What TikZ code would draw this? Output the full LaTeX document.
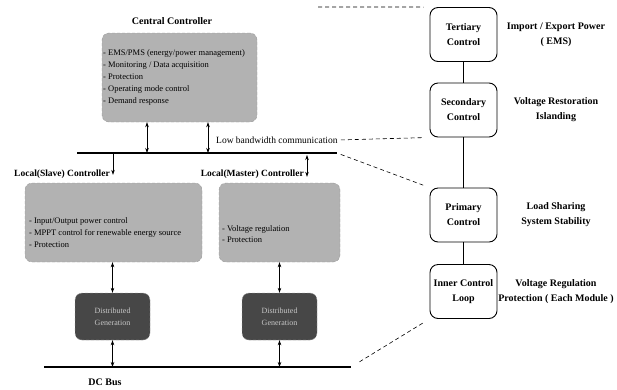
\documentclass[tikz,border=0pt]{standalone}
\usepackage{fontspec}
\setmainfont{Liberation Serif}
\usetikzlibrary{arrows.meta}
\newcommand{\hd}[1]{\textbf{#1}}

\begin{document}
\begin{tikzpicture}[x=1pt,y=-1pt,
  >={Stealth[length=5pt,width=3.5pt]},
  panel/.style={draw=black!40,dash pattern=on 3pt off 2pt,fill=black!30,rounded corners=7pt},
  dgbox/.style={draw=black!35,dash pattern=on 3pt off 2pt,fill=black!72,rounded corners=7pt,
    minimum width=75pt,minimum height=47pt,text=black!22,align=center,font=\fontsize{8}{12}\selectfont},
  items/.style={align=left,inner sep=0pt,font=\fontsize{8.5}{11.8}\selectfont},
  ctl/.style={draw,line width=0.9pt,rounded corners=8pt,fill=white,minimum width=67pt,
    minimum height=54pt,align=center,font=\fontsize{10}{15}\selectfont},
  lbl/.style={align=center,font=\fontsize{10}{15}\selectfont},
  hdr/.style={inner sep=0pt,font=\fontsize{10}{12}\selectfont},
  bus/.style={line width=2.4pt},
  link/.style={dash pattern=on 4pt off 3pt,line width=0.6pt},
  tie/.style={line width=1.8pt},
  ]
\useasboundingbox (0,0) rectangle (617,389);

\node (CCh) [hdr] at (172,21) {\hd{Central Controller}};
\node (CC) [panel,minimum width=155pt,minimum height=89pt] at (179.5,77.5) {};
\node (CCt) [items,anchor=west] at (103,77.5) {- EMS/PMS (energy/power management)\\- Monitoring / Data acquisition\\- Protection\\- Operating mode control\\- Demand response};
\node (LB) [hdr,anchor=west,font=\fontsize{9.5}{12}\selectfont] at (216,140) {Low bandwidth communication};

\coordinate (U1) at (77,153);
\coordinate (U2) at (337,153);
\coordinate (a1) at (147,153);
\coordinate (a2) at (208,153);
\coordinate (a3) at (113,153);
\coordinate (a4) at (307,153);

\node (SLh) [hdr,anchor=east,font=\fontsize{9.5}{12}\selectfont] at (110,174) {\hd{Local(Slave) Controller}};
\node (MAh) [hdr,anchor=east,font=\fontsize{9.5}{12}\selectfont] at (304,174) {\hd{Local(Master) Controller}};
\node (SL) [panel,minimum width=177pt,minimum height=79pt] at (113.5,222.5) {};
\node (SLt) [items,anchor=west] at (29,232.5) {- Input/Output power control\\- MPPT control for renewable energy source\\- Protection};
\node (MA) [panel,minimum width=121pt,minimum height=79pt] at (279.5,222.5) {};
\node (MAt) [items,anchor=west] at (222,234) {- Voltage regulation\\- Protection};

\node (DG1) [dgbox] at (112.5,316.5) {Distributed\\Generation};
\node (DG2) [dgbox] at (279.5,316.5) {Distributed\\Generation};

\coordinate (D1) at (44,367);
\coordinate (D2) at (351,367);
\node (DC) [hdr] at (105,382) {\hd{DC Bus}};

\node (T) [ctl] at (463.5,34.5) {\hd{Tertiary}\\\hd{Control}};
\node (S) [ctl] at (463.5,110) {\hd{Secondary}\\\hd{Control}};
\node (P) [ctl] at (463.5,215) {\hd{Primary}\\\hd{Control}};
\node (I) [ctl] at (463.5,291.5) {\hd{Inner Control}\\\hd{Loop}};

\coordinate (lx) at (556,0);
\node (TX) [lbl] at (T -| lx) {\hd{Import / Export Power}\\\hd{( EMS)}};
\node (SX) [lbl] at (S -| lx) {\hd{Voltage Restoration}\\\hd{Islanding}};
\node (PX) [lbl] at (P -| lx) {\hd{Load Sharing}\\\hd{System Stability}};
\node (IX) [lbl] at (I -| lx) {\hd{Voltage Regulation}\\\hd{Protection ( Each Module )}};

\draw[bus] (U1) -- (U2);
\draw[bus] (D1) -- (D2);
\draw[semithick,<->] (CC.south -| a1) -- (a1);
\draw[semithick,<->] (CC.south -| a2) -- (a2);
\draw[semithick,->,shorten >=8pt] (a3) -- (SL.north -| a3);
\draw[semithick,<->,shorten <=2pt,shorten >=6pt] (a4) -- (MA.north -| a4);
\draw[semithick,<->] (SL.south -| DG1.north) -- (DG1.north);
\draw[semithick,<->] (MA.south -| DG2.north) -- (DG2.north);
\draw[semithick,<->] (DG1.south) -- (DG1.south |- D1);
\draw[semithick,<->] (DG2.south) -- (DG2.south |- D1);

\draw[tie] (T) -- (S);
\draw[tie] (S) -- (P);
\draw[tie] (P) -- (I);

\coordinate (tt) at (318,7);
\draw[link,shorten >=6pt] (tt) -- (T.north west);
\draw[link,shorten <=3pt,shorten >=6pt] (LB.east) -- (S.south west);
\draw[link,shorten <=4pt,shorten >=6pt] (U2) -- (P.north west);
\draw[link,shorten <=10pt,shorten >=6pt] (D2) -- (I.south west);
\end{tikzpicture}
\end{document}
